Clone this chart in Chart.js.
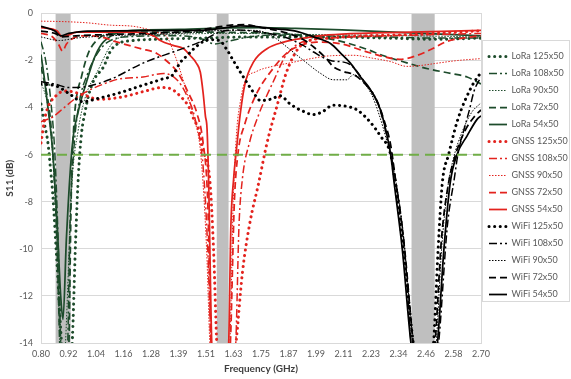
<!DOCTYPE html>
<html><head><meta charset="utf-8">
<script src="https://cdn.jsdelivr.net/npm/chart.js@4.4.1/dist/chart.umd.min.js"></script>
<style>html,body{margin:0;padding:0;background:#fff}</style>
</head><body>
<canvas id="c" width="571" height="379"></canvas>
<script>
// ---------- data (frequency GHz, S11 dB) ----------
const xTickLabels = ['0.80','0.92','1.04','1.16','1.28','1.39','1.51','1.63','1.75','1.87','1.99','2.11','2.23','2.34','2.46','2.58','2.70'];
const freqMin = 0.80, freqMax = 2.70;
const yMin = -14, yMax = 0, yStep = 2;
const bandLoRa = [0.863, 0.928];
const bandGNSS = [1.559, 1.610];
const bandWiFi = [2.400, 2.500];
const thresholdDb = -6;

const seriesNames = ['LoRa 125x50','LoRa 108x50','LoRa 90x50','LoRa 72x50','LoRa 54x50',
  'GNSS 125x50','GNSS 108x50','GNSS 90x50','GNSS 72x50','GNSS 54x50',
  'WiFi 125x50','WiFi 108x50','WiFi 90x50','WiFi 72x50','WiFi 54x50'];

const loRa125 = [[0.80,-3.85],[0.815,-4.7],[0.83,-5.5],[0.84,-6.5],[0.85,-7.6],[0.87,-10.8],[0.89,-14.2],[0.91,-16.5],[0.934,-14.2],[0.95,-9.5],[0.962,-6.8],[0.975,-5.1],[0.99,-4.2],[1.005,-3.5],[1.03,-2.8],[1.07,-2.27],[1.10,-1.6],[1.13,-1.3],[1.20,-1.15],[1.30,-1.1],[1.50,-1.05],[1.70,-1.0],[2.00,-1.0],[2.30,-1.05],[2.50,-1.1],[2.70,-1.05]];
const loRa108 = [[0.80,-1.2],[0.82,-2.0],[0.84,-3.5],[0.86,-6],[0.875,-10],[0.886,-14.2],[0.90,-16],[0.915,-14.2],[0.925,-9],[0.94,-6],[0.965,-3.8],[1.0,-2.6],[1.05,-1.6],[1.10,-1.15],[1.20,-0.98],[1.40,-0.95],[1.50,-1.1],[1.55,-1.3],[1.60,-1.2],[1.70,-1.0],[1.80,-0.92],[2.00,-0.95],[2.30,-1.0],[2.50,-1.05],[2.70,-1.05]];
const loRa90 = [[0.80,-2.9],[0.83,-4.0],[0.85,-6.0],[0.87,-10],[0.882,-14.2],[0.895,-16],[0.905,-14.2],[0.934,-7.2],[0.96,-5.0],[0.99,-3.6],[1.047,-2.4],[1.105,-1.3],[1.15,-1.0],[1.30,-0.9],[1.60,-0.85],[2.00,-0.9],[2.40,-0.95],[2.70,-1.0]];
const loRa72 = [[0.80,-2.27],[0.824,-3.37],[0.839,-4.35],[0.855,-6.5],[0.87,-10],[0.882,-14.2],[0.90,-16],[0.92,-14.2],[0.93,-8],[0.938,-5.5],[0.947,-4.07],[0.975,-2.68],[1.004,-1.7],[1.04,-1.15],[1.09,-0.87],[1.20,-0.8],[1.50,-0.8],[1.80,-0.85],[2.00,-1.0],[2.10,-1.2],[2.20,-1.5],[2.28,-1.8],[2.38,-2.1],[2.47,-2.35],[2.57,-2.55],[2.64,-2.7],[2.70,-3.0]];
const loRa54 = [[0.80,-1.75],[0.815,-2.8],[0.83,-4.0],[0.85,-5.8],[0.87,-9.0],[0.885,-12],[0.895,-13.0],[0.91,-9.5],[0.935,-5.6],[0.96,-4.2],[1.0,-2.8],[1.03,-1.9],[1.062,-1.3],[1.12,-0.87],[1.20,-0.72],[1.40,-0.68],[1.60,-0.62],[1.75,-0.6],[1.90,-0.64],[2.10,-0.7],[2.30,-0.78],[2.50,-0.87],[2.70,-0.95]];

const gnss125 = [[0.80,-5.5],[0.82,-4.3],[0.87,-3.45],[0.91,-3.3],[0.98,-3.45],[1.05,-3.65],[1.15,-3.55],[1.25,-3.3],[1.32,-3.15],[1.36,-3.2],[1.40,-3.5],[1.44,-4.0],[1.46,-4.5],[1.48,-4.9],[1.50,-5.8],[1.53,-7.2],[1.545,-10],[1.56,-14.2],[1.60,-17],[1.64,-14.2],[1.67,-11],[1.70,-9],[1.74,-7.2],[1.776,-5.5],[1.82,-3.9],[1.86,-2.5],[1.91,-1.5],[1.96,-1.15],[2.05,-1.05],[2.15,-0.97],[2.40,-0.9],[2.55,-0.82],[2.70,-0.74]];
const gnss108 = [[0.80,-4.6],[0.85,-4.4],[0.90,-4.0],[0.95,-3.6],[1.0,-3.3],[1.07,-3.0],[1.13,-2.8],[1.24,-2.7],[1.33,-2.55],[1.39,-2.85],[1.43,-3.5],[1.466,-4.5],[1.50,-6.5],[1.52,-10],[1.535,-14.2],[1.58,-17],[1.64,-14.2],[1.655,-9],[1.67,-7],[1.70,-5.5],[1.74,-4.3],[1.77,-3.6],[1.81,-2.75],[1.85,-1.9],[1.90,-1.36],[1.95,-1.15],[2.05,-1.05],[2.30,-0.95],[2.50,-0.9],[2.70,-0.85]];
const gnss90 = [[0.80,-0.33],[0.90,-0.35],[1.0,-0.4],[1.10,-0.5],[1.20,-0.55],[1.30,-0.8],[1.344,-1.0],[1.37,-1.57],[1.40,-2.4],[1.43,-3.37],[1.458,-4.36],[1.49,-6],[1.515,-10],[1.53,-14.2],[1.57,-17],[1.615,-14.2],[1.63,-8],[1.645,-5],[1.66,-3.8],[1.68,-2.9],[1.73,-2.47],[1.80,-2.25],[1.877,-2.1],[1.95,-1.95],[2.05,-1.8],[2.15,-1.78],[2.23,-1.9],[2.31,-2.05],[2.38,-2.25],[2.45,-2.2],[2.50,-2.13],[2.60,-2.0],[2.70,-1.92]];
const gnss72 = [[0.80,-0.85],[0.85,-1.0],[0.875,-1.3],[0.893,-1.6],[0.91,-1.3],[0.94,-1.05],[1.0,-0.95],[1.06,-1.0],[1.13,-1.22],[1.23,-1.5],[1.30,-1.7],[1.34,-2.0],[1.39,-2.5],[1.435,-3.35],[1.475,-4.3],[1.50,-5.5],[1.52,-8],[1.535,-14.2],[1.58,-17],[1.617,-14.2],[1.635,-8],[1.65,-6],[1.68,-4.7],[1.733,-3.37],[1.79,-2.5],[1.86,-1.7],[1.92,-1.36],[1.99,-1.22],[2.10,-1.3],[2.18,-1.55],[2.265,-1.8],[2.35,-1.95],[2.42,-1.8],[2.49,-1.5],[2.55,-1.2],[2.62,-1.05],[2.70,-0.95]];
const gnss54 = [[0.80,-0.6],[0.87,-0.75],[0.89,-0.98],[0.91,-0.95],[0.955,-0.8],[1.20,-0.8],[1.285,-0.95],[1.315,-1.15],[1.37,-1.36],[1.416,-1.5],[1.445,-1.8],[1.47,-2.1],[1.488,-2.5],[1.50,-3.37],[1.51,-4.36],[1.517,-4.9],[1.524,-7.2],[1.538,-14.2],[1.575,-17],[1.61,-14.2],[1.62,-9],[1.632,-7],[1.646,-5.6],[1.66,-4.3],[1.68,-3.03],[1.718,-2.06],[1.776,-1.5],[1.848,-1.22],[1.92,-1.07],[2.0,-0.95],[2.10,-0.88],[2.40,-0.8],[2.70,-0.72]];

const wifi125 = [[0.80,-3.0],[0.87,-3.1],[0.92,-3.4],[0.98,-3.75],[1.05,-3.6],[1.13,-3.4],[1.24,-3.05],[1.32,-2.8],[1.37,-2.6],[1.40,-2.1],[1.43,-1.8],[1.46,-1.5],[1.50,-1.2],[1.53,-1.12],[1.57,-1.15],[1.60,-1.5],[1.63,-2.0],[1.674,-2.7],[1.717,-3.35],[1.747,-3.7],[1.79,-3.65],[1.833,-3.5],[1.876,-3.85],[1.93,-4.15],[1.976,-4.3],[2.02,-4.15],[2.06,-3.9],[2.12,-3.95],[2.165,-4.1],[2.22,-4.6],[2.265,-5.2],[2.31,-6.0],[2.33,-7.2],[2.37,-10.5],[2.41,-14.2],[2.45,-16.5],[2.494,-14.2],[2.515,-10],[2.533,-7.2],[2.56,-6.0],[2.60,-4.5],[2.66,-3.1],[2.70,-2.5]];
const wifi108 = [[0.80,-2.9],[0.86,-3.0],[0.92,-3.15],[1.0,-3.1],[1.10,-2.8],[1.243,-2.1],[1.39,-1.57],[1.485,-1.22],[1.57,-0.8],[1.65,-0.7],[1.75,-0.8],[1.85,-1.0],[1.93,-1.35],[1.977,-1.64],[2.05,-2.0],[2.12,-2.1],[2.15,-2.3],[2.21,-3.1],[2.24,-3.5],[2.27,-4.3],[2.30,-5.5],[2.33,-7],[2.37,-10],[2.40,-14.2],[2.46,-17],[2.515,-14.2],[2.555,-9],[2.585,-7.0],[2.60,-6.0],[2.625,-5.0],[2.65,-4.1],[2.67,-3.3],[2.70,-2.7]];
const wifi90 = [[0.80,-1.0],[0.88,-1.15],[0.95,-1.05],[1.10,-0.95],[1.40,-0.85],[1.60,-0.72],[1.72,-0.72],[1.78,-0.85],[1.82,-1.1],[1.862,-1.43],[1.934,-2.0],[2.006,-2.54],[2.063,-2.82],[2.12,-2.82],[2.15,-2.6],[2.19,-2.9],[2.23,-3.5],[2.26,-4.3],[2.29,-5.3],[2.32,-6.5],[2.36,-9],[2.41,-14.2],[2.46,-16.5],[2.505,-14.2],[2.53,-10],[2.555,-7.5],[2.58,-6.2],[2.62,-5.0],[2.66,-4.2],[2.70,-3.8]];
const wifi72 = [[0.80,-0.75],[0.86,-0.85],[0.89,-1.0],[0.95,-0.95],[1.20,-0.87],[1.45,-0.75],[1.55,-0.6],[1.62,-0.5],[1.68,-0.48],[1.75,-0.6],[1.85,-0.8],[1.93,-1.1],[1.98,-1.45],[2.03,-1.9],[2.063,-2.27],[2.107,-2.47],[2.15,-2.6],[2.20,-3.0],[2.25,-3.7],[2.28,-4.5],[2.31,-5.6],[2.33,-7],[2.37,-10],[2.41,-14.2],[2.46,-16.5],[2.50,-14.2],[2.53,-9.5],[2.56,-7.2],[2.59,-6.0],[2.63,-5.0],[2.67,-4.4],[2.70,-4.1]];
const wifi54 = [[0.80,-0.55],[0.86,-0.75],[0.885,-0.95],[0.92,-0.85],[1.0,-0.75],[1.50,-0.72],[1.60,-0.6],[1.66,-0.53],[1.72,-0.55],[1.80,-0.65],[1.90,-0.75],[1.977,-1.0],[2.05,-1.28],[2.10,-1.75],[2.135,-2.1],[2.18,-2.7],[2.22,-3.2],[2.265,-4.07],[2.29,-5.0],[2.31,-6.0],[2.325,-7.2],[2.36,-10],[2.40,-14.2],[2.455,-16.5],[2.51,-14.2],[2.54,-10],[2.567,-7.2],[2.596,-6],[2.64,-5.2],[2.683,-4.5],[2.70,-4.35]];

const seriesValues = [loRa125, loRa108, loRa90, loRa72, loRa54,
  gnss125, gnss108, gnss90, gnss72, gnss54,
  wifi125, wifi108, wifi90, wifi72, wifi54];

// ---------- styles ----------
const colLoRa = '#1D4B2B', colGNSS = '#E3231E', colWiFi = '#000000';
const seriesColors = [colLoRa,colLoRa,colLoRa,colLoRa,colLoRa,colGNSS,colGNSS,colGNSS,colGNSS,colGNSS,colWiFi,colWiFi,colWiFi,colWiFi,colWiFi];
const sizeStyles = [
  {borderWidth:3, borderDash:[0.1,5.5], borderCapStyle:'round'},
  {borderWidth:1.5, borderDash:[8,3,2,3], borderCapStyle:'butt'},
  {borderWidth:1, borderDash:[1.5,1.5], borderCapStyle:'butt'},
  {borderWidth:1.75, borderDash:[7,4], borderCapStyle:'butt'},
  {borderWidth:1.75, borderDash:[], borderCapStyle:'butt'}
];

const datasets = seriesValues.map((vals, i) => {
  const st = sizeStyles[i % 5];
  return {
    label: seriesNames[i],
    data: vals.map(p => ({x: p[0], y: p[1]})),
    borderColor: seriesColors[i],
    backgroundColor: seriesColors[i],
    borderWidth: st.borderWidth,
    borderDash: st.borderDash,
    borderCapStyle: st.borderCapStyle,
    pointRadius: 0,
    cubicInterpolationMode: 'monotone',
    fill: false,
    clip: 0,
    order: seriesValues.length - i
  };
});
datasets.push({
  label: '-6 dB',
  data: [{x: freqMin, y: thresholdDb}, {x: freqMax, y: thresholdDb}],
  borderColor: '#70AD47', borderWidth: 2, borderDash: [10, 6],
  pointRadius: 0, fill: false, order: 0, clip: 0
});

const bands = [bandLoRa, bandGNSS, bandWiFi];
const bandsPlugin = {
  id: 'bands',
  beforeDatasetsDraw(chart) {
    const {ctx, chartArea: a, scales: {x}} = chart;
    ctx.save();
    ctx.fillStyle = '#BFBFBF';
    for (const [f0, f1] of bands) {
      const x0 = x.getPixelForValue(f0), x1 = x.getPixelForValue(f1);
      ctx.fillRect(x0, a.top, x1 - x0, a.bottom - a.top);
    }
    ctx.strokeStyle = '#D9D9D9';
    ctx.lineWidth = 1;
    ctx.strokeRect(Math.round(a.left) + 0.5, Math.round(a.top) + 0.5, Math.round(a.right - a.left), Math.round(a.bottom - a.top));
    ctx.restore();
  },
  afterDraw(chart) {
    const lg = chart.legend;
    if (!lg || !lg.legendHitBoxes || !lg.legendHitBoxes.length) return;
    const hb = lg.legendHitBoxes;
    const top = Math.min(...hb.map(h => h.top)) - 12;
    const bottom = Math.max(...hb.map(h => h.top + h.height)) + 2;
    const ctx = chart.ctx;
    ctx.save();
    ctx.strokeStyle = '#D9D9D9';
    ctx.lineWidth = 1;
    ctx.strokeRect(Math.round(lg.left) + 1.5, Math.round(top) + 0.5, Math.round(lg.right - lg.left) - 3, Math.round(bottom - top));
    ctx.restore();
  }
};
const legendWidthFix = {
  id: 'legendWidthFix',
  beforeUpdate(chart) {
    const lg = chart.legend;
    if (lg && !lg.__fixed) {
      const orig = lg.fit.bind(lg);
      lg.fit = function () { orig(); this.width = 90; };
      lg.__fixed = true;
    }
  }
};

Chart.defaults.font.family = "Lato, 'Liberation Sans', sans-serif";
Chart.defaults.color = '#595959';

new Chart(document.getElementById('c'), {
  type: 'line',
  data: { datasets },
  plugins: [bandsPlugin, legendWidthFix],
  options: {
    responsive: false,
    animation: false,
    devicePixelRatio: 1,
    layout: { padding: { top: 7, left: 0, right: 0, bottom: 0 } },
    plugins: {
      tooltip: { enabled: false },
      legend: {
        position: 'right',
        align: 'start',
        title: { display: true, text: ' ', font: { size: 10 }, padding: { top: 25, bottom: 0 } },
        labels: {
          usePointStyle: true,
          pointStyle: 'line',
          pointStyleWidth: 18,
          padding: 8,
          color: '#595959',
          font: { size: 9 },
          generateLabels(chart) {
            return chart.data.datasets.slice(0, seriesNames.length).map((ds, i) => ({
              text: ds.label,
              fillStyle: ds.borderColor,
              strokeStyle: ds.borderColor,
              fontColor: '#595959',
              lineWidth: ds.borderWidth,
              lineDash: ds.borderDash,
              lineCap: ds.borderCapStyle,
              pointStyle: 'line',
              hidden: false,
              datasetIndex: i
            }));
          }
        }
      }
    },
    scales: {
      x: {
        type: 'linear',
        min: freqMin, max: freqMax,
        afterBuildTicks(scale) {
          const n = xTickLabels.length;
          scale.ticks = xTickLabels.map((l, i) => ({ value: freqMin + (freqMax - freqMin) * i / (n - 1) }));
        },
        afterFit(scale) { scale.height = 36; },
        ticks: {
          callback: (v, i) => xTickLabels[i],
          autoSkip: false, maxRotation: 0, padding: 6,
          font: { size: 9 }, color: '#595959'
        },
        grid: { display: false, drawTicks: false },
        border: { display: false },
        title: { display: true, text: 'Frequency (GHz)', font: { size: 10, weight: 'bold' }, color: '#404040', padding: { top: 4, bottom: 4 } }
      },
      y: {
        min: yMin, max: yMax,
        afterFit(scale) { scale.width = 41; },
        ticks: { stepSize: yStep, padding: 8, font: { size: 9 }, color: '#595959' },
        grid: { color: '#D9D9D9', drawTicks: false },
        border: { display: false },
        title: { display: true, text: 'S11 (dB)', font: { size: 10, weight: 'bold' }, color: '#404040', padding: { top: 4, bottom: 4 } }
      }
    }
  }
});
</script>
</body></html>
